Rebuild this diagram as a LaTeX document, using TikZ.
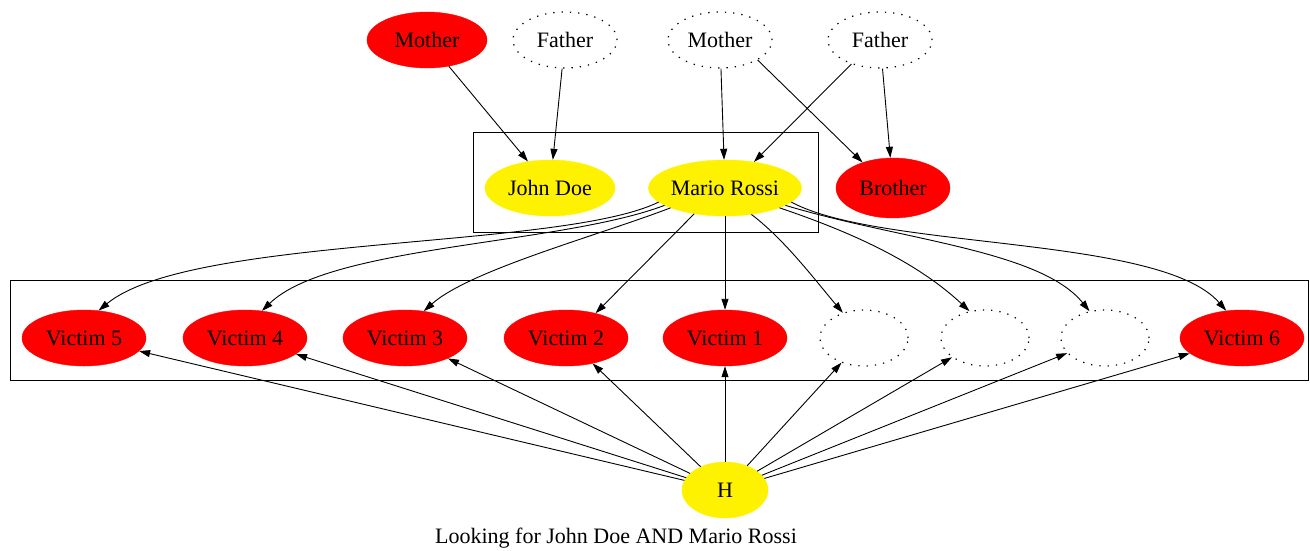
\documentclass[tikz,border=0pt]{standalone}
\usepackage{fontspec}
\setmainfont{Liberation Serif}
\usetikzlibrary{shapes.geometric,arrows.meta}
\tikzset{
  gv/.style={ellipse, inner sep=0pt, minimum height=56pt, font=\fontsize{22}{26}\selectfont},
  rednode/.style={gv, fill=red, draw=red},
  yellownode/.style={gv, fill=yellow, draw=yellow},
  ghost/.style={gv, draw, dash pattern=on 1.3pt off 7pt, line width=1.2pt},
  gedge/.style={-{Triangle[length=11pt,width=7pt]}, line width=0.9pt},
  clusterbox/.style={draw, line width=1pt}
}
\begin{document}
\begin{tikzpicture}[x=1pt,y=-1pt]
\useasboundingbox (0,0) rectangle (1310,550);
% clusters
\draw[clusterbox] (473,132) rectangle (818,232);
\draw[clusterbox] (10,280) rectangle (1308,380);
% top row
\node[rednode, minimum width=120pt] (m1) at (427,40) {Mother};
\node[ghost, minimum width=104pt] (f1) at (565,40) {Father};
\node[ghost, minimum width=104pt] (m2) at (720,40) {Mother};
\node[ghost, minimum width=104pt] (f2) at (880,40) {Father};
% middle row
\node[yellownode, minimum width=130pt] (jd) at (550,188) {John Doe};
\node[yellownode, minimum width=150pt] (mr) at (725,188) {Mario Rossi};
\node[rednode, minimum width=114pt, minimum height=60pt] (br) at (893,188) {Brother};
% victims
\node[rednode, minimum width=124pt] (v5) at (84,338) {Victim 5};
\node[rednode, minimum width=124pt] (v4) at (245,338) {Victim 4};
\node[rednode, minimum width=124pt] (v3) at (405,338) {Victim 3};
\node[rednode, minimum width=124pt] (v2) at (566,338) {Victim 2};
\node[rednode, minimum width=124pt] (v1) at (725,338) {Victim 1};
\node[ghost, minimum width=88pt] (d1) at (864,338) {};
\node[ghost, minimum width=88pt] (d2) at (985,338) {};
\node[ghost, minimum width=88pt] (d3) at (1105,338) {};
\node[rednode, minimum width=124pt] (v6) at (1242,338) {Victim 6};
% hub
\node[yellownode, minimum width=86pt] (h) at (725,490) {H};
\node[font=\fontsize{22}{26}\selectfont] (lbl) at (616,538) {Looking for John Doe AND Mario Rossi};
% top edges
\draw[gedge] (m1) -- (jd);
\draw[gedge] (f1) -- (jd);
\draw[gedge] (m2) -- (mr);
\draw[gedge] (m2.-28) -- (br.140);
\draw[gedge] (f2.-140) -- (mr.42);
\draw[gedge] (f2) -- (br);
% Mario Rossi to victims
\draw[gedge] (mr.192) .. controls (560,250) and (190,235) .. (v5.62);
\draw[gedge] (mr.196) .. controls (560,245) and (330,245) .. (v4.58);
\draw[gedge] (mr.200) .. controls (600,235) and (470,270) .. (v3.55);
\draw[gedge] (mr.-140) -- (v2.40);
\draw[gedge] (mr) -- (v1);
\draw[gedge] (mr.-45) .. controls (785,240) and (815,280) .. (d1.130);
\draw[gedge] (mr.-20) .. controls (860,235) and (920,265) .. (d2.120);
\draw[gedge] (mr.-16) .. controls (900,240) and (1040,250) .. (d3.120);
\draw[gedge] (mr.-12) .. controls (880,250) and (1160,235) .. (v6.120);
% H to victims
\foreach \v in {v5,v4,v3,v2,v1,d1,d2,d3,v6}{
  \draw[gedge] (h) -- (\v);
}
\end{tikzpicture}
\end{document}
